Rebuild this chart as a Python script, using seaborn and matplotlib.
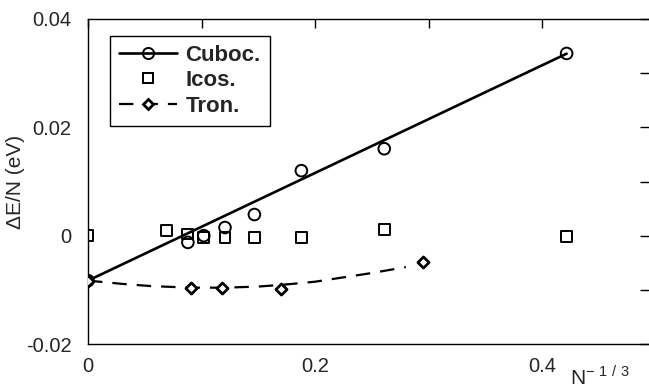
import numpy as np
import pandas as pd
import matplotlib
matplotlib.use("Agg")
import matplotlib.pyplot as plt
from matplotlib.lines import Line2D
import seaborn as sns

# ---- data ----
cuboc_x = [0.0, 0.088, 0.102, 0.1207, 0.1466, 0.188, 0.261, 0.4217]
cuboc_y = [-0.0083, -0.00124, 0.0000, 0.0015, 0.0039, 0.0120, 0.01605, 0.03364]
cuboc_fit_x = [0.0, 0.4217]
cuboc_fit_y = [-0.0083, 0.0336]

icos_x = [0.0, 0.0693, 0.0878, 0.102, 0.1207, 0.1466, 0.188, 0.261, 0.4217]
icos_y = [0.0, 0.00093, 0.0003, -0.0003, -0.0003, -0.0004, -0.0004, 0.0011, -0.0001]

tron_x = [0.0, 0.0904, 0.1183, 0.170, 0.2954]
tron_y = [-0.0083, -0.0097, -0.0097, -0.0099, -0.0049]
tron_curve_x = [0.0, 0.03, 0.055, 0.09, 0.12, 0.15, 0.175, 0.2, 0.225, 0.25, 0.28]
tron_curve_y = [-0.0083, -0.0089, -0.0093, -0.0096, -0.0096, -0.0094, -0.0090,
                -0.0085, -0.0077, -0.0069, -0.0058]

series_labels = ["Cuboc.", "Icos.", "Tron."]
x_ticks = [0.0, 0.2, 0.4]
x_tick_labels = ["0", "0.2", "0.4"]
x_minor = [0.1, 0.3]
y_ticks = [-0.02, 0.0, 0.02, 0.04]
y_tick_labels = ["-0.02", "0", "0.02", "0.04"]
y_minor = [-0.01, 0.01, 0.03]

sns.set_style("white")
plt.rcParams["font.family"] = ["Liberation Sans", "DejaVu Sans"]
plt.rcParams["axes.unicode_minus"] = False

fig = plt.figure(figsize=(6.49, 3.91), dpi=100)
ax = fig.add_axes([88 / 649, 47 / 391, 561 / 649, 325 / 391])

# lines
sns.lineplot(x=cuboc_fit_x, y=cuboc_fit_y, ax=ax, color="black", lw=1.9,
             legend=False, sort=False, estimator=None)
sns.lineplot(x=tron_curve_x, y=tron_curve_y, ax=ax, color="black", lw=1.6,
             legend=False, sort=False, estimator=None, dashes=False)
ax.lines[-1].set_dashes([6.5, 4.5])

# markers
sns.scatterplot(x=icos_x, y=icos_y, ax=ax, marker="s", s=60,
                facecolor="none", edgecolor="black", linewidth=1.4, legend=False, zorder=3)
sns.scatterplot(x=cuboc_x, y=cuboc_y, ax=ax, marker="o", s=70,
                facecolor="none", edgecolor="black", linewidth=1.4, legend=False, zorder=3)
sns.scatterplot(x=tron_x, y=tron_y, ax=ax, marker="D", s=32,
                facecolor="white", edgecolor="black", linewidth=2.0, legend=False, zorder=4)

ax.set_xlim(0, 561 / 1135)
ax.set_ylim(-0.02, 0.04)

ax.set_xticks(x_ticks)
ax.set_xticklabels(x_tick_labels)
ax.set_xticks(x_minor, minor=True)
ax.set_yticks(y_ticks)
ax.set_yticklabels(y_tick_labels)
ax.set_yticks(y_minor, minor=True)

ax.tick_params(which="both", direction="in", top=True, right=True,
               length=6.5, width=1.0, color="black", labelsize=14.5)
ax.tick_params(axis="x", which="both", pad=9)
ax.tick_params(axis="y", which="both", pad=12)

for side in ["left", "bottom", "top"]:
    ax.spines[side].set_color("black")
    ax.spines[side].set_linewidth(1.0)
ax.spines["right"].set_visible(False)

ax.set_ylabel("ΔE/N (eV)", fontsize=15)
ax.yaxis.set_label_coords((25 - 88) / 561, 0.5)
ax.set_xlabel(r"N$^{\mathregular{-\ 1\ /\ 3}}$", fontsize=15)
ax.xaxis.set_label_coords((600 - 88) / 561, -0.062)

handles = [
    Line2D([], [], color="black", lw=1.9, marker="o", ms=8, mfc="none", mew=1.4),
    Line2D([], [], color="none", marker="s", ms=7.5, mfc="none", mec="black", mew=1.4),
    Line2D([], [], color="black", lw=1.6, ls=(0, (6.5, 4.5)), marker="D", ms=5.5,
           mfc="white", mec="black", mew=2.0),
]
leg = ax.legend(handles, series_labels, loc="upper left",
                bbox_to_anchor=(0.039, 0.948), borderaxespad=0,
                prop={"family": "Liberation Sans", "weight": "bold", "size": 16},
                frameon=True, fancybox=False, shadow=False, framealpha=1,
                edgecolor="black", handlelength=2.6, handletextpad=0.4,
                labelspacing=0.2, borderpad=0.4)
leg.get_frame().set_linewidth(1.0)

fig.savefig("out.png", dpi=100)
